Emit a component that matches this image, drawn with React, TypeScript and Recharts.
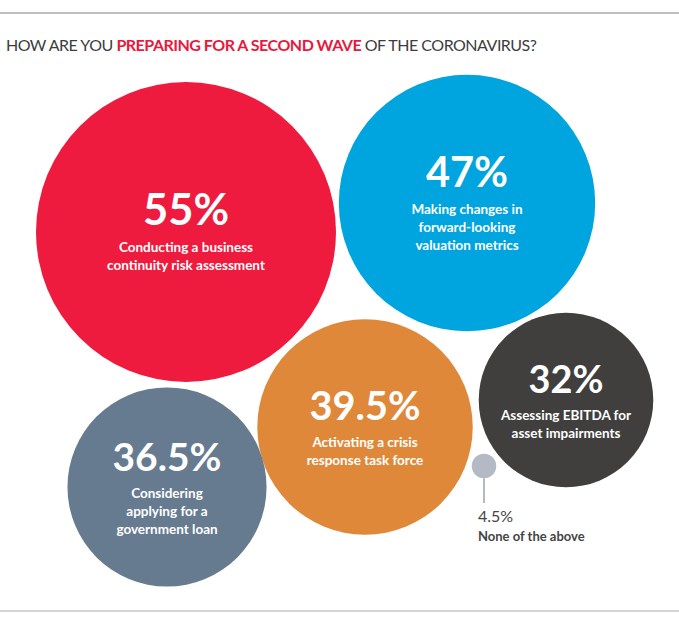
import React from "react"
import { ScatterChart, Scatter, XAxis, YAxis, ZAxis, ReferenceLine } from "recharts"

// survey answers
const categories = [
  "Conducting a business continuity risk assessment",
  "Making changes in forward-looking valuation metrics",
  "Activating a crisis response task force",
  "Assessing EBITDA for asset impairments",
  "Considering applying for a government loan",
  "None of the above",
]
const labelLines = [
  ["Conducting a business", "continuity risk assessment"],
  ["Making changes in", "forward-looking", "valuation metrics"],
  ["Activating a crisis", "response task force"],
  ["Assessing EBITDA for", "asset impairments"],
  ["Considering", "applying for a", "government loan"],
  ["None of the above"],
]
const values = [55, 47, 39.5, 32, 36.5, 4.5]
const valueLabels = ["55%", "47%", "39.5%", "32%", "36.5%", "4.5%"]

// where each bubble sits on the layout grid (0..679 x 0..625)
const bubbleX = [186, 467, 365, 566, 167, 484]
const bubbleY = [232, 203, 427, 400, 487, 466]

const colors = ["#ee1b3e", "#00a4de", "#e0883a", "#403f3e", "#667b8f", "#b3bac6"]

const W = 679
const H = 625
const FONT = "Lato, 'Open Sans', sans-serif"

const data = categories.map((name, i) => ({
  name,
  lines: labelLines[i],
  value: values[i],
  valueLabel: valueLabels[i],
  x: bubbleX[i],
  y: bubbleY[i],
  color: colors[i],
}))

const renderBubble = (props: any) => {
  const { cx, cy, width, payload } = props
  const r = width / 2
  const lines: string[] = payload.lines

  if (r < 30) {
    // tiny bubble, label hangs below it
    return (
      <g>
        <line x1={cx} x2={cx} y1={cy + r} y2={cy + 37} stroke="#b3bac6" strokeWidth={2} />
        <circle cx={cx} cy={cy} r={r} fill={payload.color} />
        <text x={cx - 6} y={cy + 56} fontFamily={FONT} fontSize={16} fill="#444">
          {payload.valueLabel}
        </text>
        <text x={cx - 6} y={cy + 75} fontFamily={FONT} fontSize={13} fontWeight={700} fill="#444">
          {lines[0]}
        </text>
      </g>
    )
  }

  const big = 30 + r * 0.09
  const base = cy - (lines.length * 18) / 2 + 11
  return (
    <g>
      <circle cx={cx} cy={cy} r={r} fill={payload.color} />
      <text x={cx} y={base} textAnchor="middle" fontFamily={FONT} fontSize={big} fontWeight={700} fill="#fff">
        {payload.valueLabel}
      </text>
      {lines.map((l, i) => (
        <text
          key={i}
          x={cx}
          y={base + 27 + i * 18}
          textAnchor="middle"
          fontFamily={FONT}
          fontSize={13.5}
          fontWeight={700}
          fill="#fff"
        >
          {l}
        </text>
      ))}
    </g>
  )
}

export default function App() {
  return (
    <div style={{ position: "relative", width: W, height: H, background: "#fff" }}>
      <style>{"body{margin:0}"}</style>
      <ScatterChart width={W} height={H} margin={{ top: 0, right: 0, bottom: 0, left: 0 }}>
        <XAxis type="number" dataKey="x" domain={[0, W]} hide />
        <YAxis type="number" dataKey="y" domain={[0, H]} reversed hide />
        <ZAxis
          type="number"
          dataKey={(d: any) => d.value * d.value}
          domain={[0, 55 * 55]}
          range={[0, Math.PI * 150 * 150]}
        />
        <ReferenceLine y={13} stroke="#a8a8a8" strokeWidth={1.5} />
        <ReferenceLine y={611} stroke="#d4d4d4" strokeWidth={2} />
        <Scatter data={data} shape={renderBubble} isAnimationActive={false} />
      </ScatterChart>
      <div
        style={{
          position: "absolute",
          left: 6,
          top: 35,
          fontFamily: FONT,
          fontSize: 16,
          color: "#3d3d3d",
          whiteSpace: "nowrap",
          letterSpacing: -0.5,
        }}
      >
        HOW ARE YOU <span style={{ color: "#e8193c", fontWeight: 700 }}>PREPARING FOR A SECOND WAVE</span> OF THE
        CORONAVIRUS?
      </div>
    </div>
  )
}
